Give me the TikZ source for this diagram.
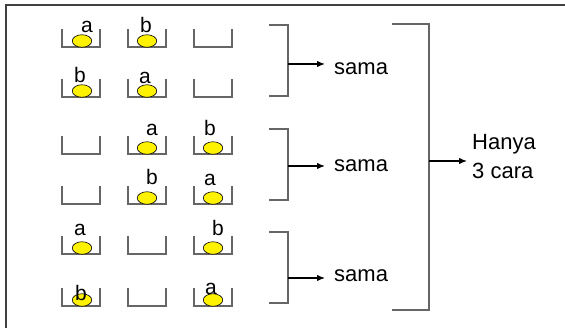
\documentclass[tikz,border=0pt]{standalone}
\usepackage{fontspec}
\setmainfont{Liberation Sans}
\usetikzlibrary{arrows.meta,shapes.geometric}
\begin{document}
\begin{tikzpicture}[x=1pt,y=-1pt,
  frameline/.style={draw=black!75, line width=1.6pt},
  cupline/.style={draw=black!60, line width=1.3pt},
  brk/.style={draw=black!60, line width=1.3pt},
  arr/.style={draw=black, line width=1.3pt, -{Latex[length=8pt,width=6.5pt]}},
  ball/.style={draw=black, fill=yellow, ellipse, line width=0.6pt, inner sep=0pt,
    minimum width=19.5pt, minimum height=12.5pt},
  lbl/.style={anchor=base, inner sep=0pt, font=\fontsize{21}{24}\selectfont},
  txt/.style={anchor=west, inner sep=0pt, font=\fontsize{22}{29}\selectfont, align=left},
  cup/.pic={\path[cupline] (-19,-18) -- (-19,0) -- (19,0) -- (19,-18);}
]
\useasboundingbox (0,0) rectangle (565,328);
% frame (top and left edges)
\coordinate (fa) at (6,328);
\coordinate (fb) at (6,5);
\coordinate (fc) at (565,5);
\path[frameline] (fa) -- (fb) -- (fc);

% cups: columns 81,147,213 ; bottoms 47,97,154,204,254,306
\foreach \r/\yb in {1/47,2/97,3/154,4/204,5/254,6/306}{
  \foreach \c/\xc in {1/81,2/147,3/213}{
    \pic (cup\r\c) at (\xc,\yb) {cup};
  }
}

% balls
\node[ball] (b11) at (82,41) {};
\node[ball] (b12) at (147,41) {};
\node[ball] (b21) at (82,91) {};
\node[ball] (b22) at (147,91) {};
\node[ball] (b32) at (147,148) {};
\node[ball] (b33) at (213,148) {};
\node[ball] (b42) at (147,198) {};
\node[ball] (b43) at (213,198) {};
\node[ball] (b51) at (82,248) {};
\node[ball] (b53) at (213,248) {};
\node[ball] (b61) at (82,300) {};
\node[ball] (b63) at (213,300) {};

% labels
\node[lbl] (l11) at (87,33) {a};
\node[lbl] (l12) at (146,33) {b};
\node[lbl] (l21) at (80,83) {b};
\node[lbl] (l22) at (145,84) {a};
\node[lbl] (l32) at (152,136) {a};
\node[lbl] (l33) at (210,136) {b};
\node[lbl] (l42) at (152,185) {b};
\node[lbl] (l43) at (210,186) {a};
\node[lbl] (l51) at (80,236) {a};
\node[lbl] (l53) at (218,236) {b};
\node[lbl] (l61) at (81,301) {b};
\node[lbl] (l63) at (211,295) {a};

% small brackets
\foreach \i/\yt/\yb/\ym in {1/25/96/64,2/129/200/166,3/232/303/278}{
  \coordinate (t\i) at (269,\yt);
  \coordinate (tc\i) at (288,\yt);
  \coordinate (bc\i) at (288,\yb);
  \coordinate (bb\i) at (269,\yb);
  \coordinate (m\i) at (288,\ym);
  \path[brk] (t\i) -- (tc\i) -- (bc\i) -- (bb\i);
}
\node[txt] (s1) at (334,69) {sama};
\node[txt] (s2) at (334,166) {sama};
\node[txt] (s3) at (334,276) {sama};
\draw[arr] (m1) -- ([xshift=-9pt]m1 -| s1.west);
\draw[arr] (m2) -- ([xshift=-9pt]m2 -| s2.west);
\draw[arr] (m3) -- ([xshift=-9pt]m3 -| s3.west);

% big bracket
\coordinate (BT) at (392,24);
\coordinate (BTc) at (429,24);
\coordinate (BBc) at (429,310);
\coordinate (BB) at (392,310);
\coordinate (BM) at (429,161);
\path[brk] (BT) -- (BTc) -- (BBc) -- (BB);
\node[txt] (H) at (472,157) {Hanya\\3 cara};
\draw[arr] (BM) -- ([xshift=-5pt]BM -| H.west);
\end{tikzpicture}
\end{document}
